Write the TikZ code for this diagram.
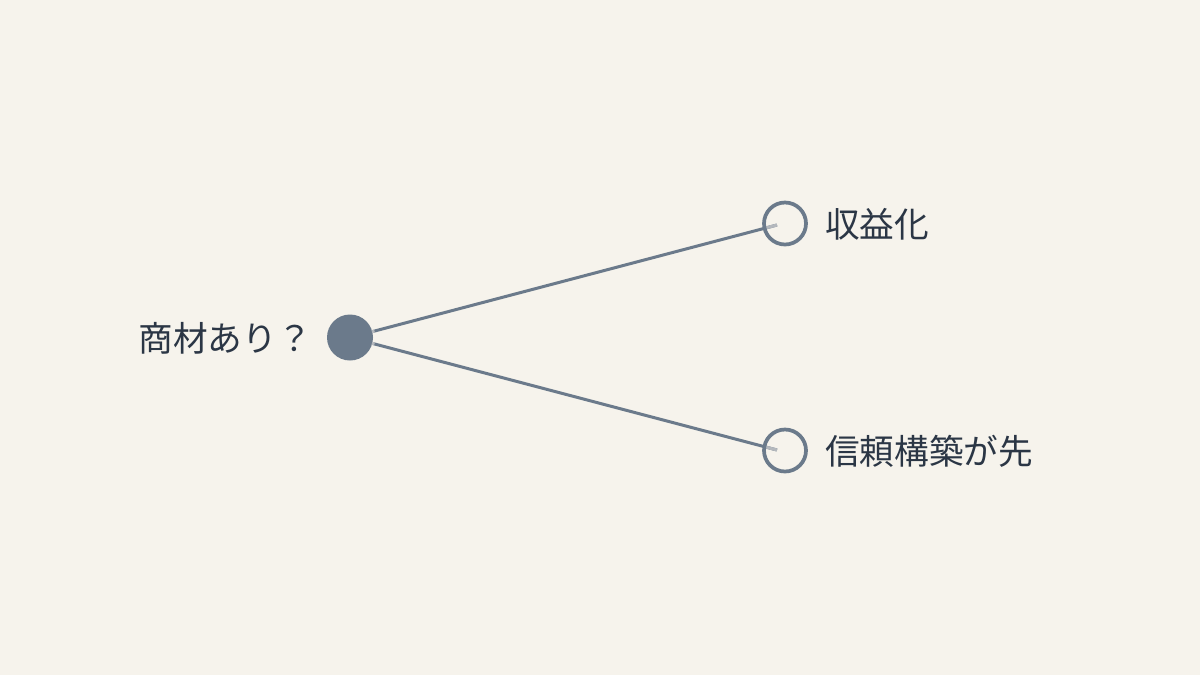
\documentclass[tikz,border=0pt]{standalone}
\usepackage{fontspec}
\usetikzlibrary{calc}
\setmainfont{Noto Sans CJK JP}
\definecolor{bg}{HTML}{F6F3EC}
\definecolor{slate}{HTML}{6B7A8B}
\definecolor{stub}{HTML}{B4B8BD}
\definecolor{ink}{HTML}{2B3645}
\begin{document}
\begin{tikzpicture}[x=0.75pt,y=-0.75pt,
  lbl/.style={text=ink,font=\fontsize{26}{30}\selectfont,inner sep=0pt},
  edge/.style={draw=slate,line width=2.25pt},
  stubline/.style={draw=stub,line width=2.25pt},
  leaf/.style={circle,draw=slate,line width=2.8pt,minimum size=31.5pt,inner sep=0pt}]
\useasboundingbox[fill=bg] (0,0) rectangle (1200,675);
\node[circle,fill=slate,minimum size=34.5pt,inner sep=0pt] (root) at (350,337.5) {};
\node[lbl,anchor=east] (q) at (312,338) {商材あり？};
\coordinate (e1) at (777,225);
\coordinate (e2) at (777,450);
\path[edge] (root) -- (e1);
\path[edge] (root) -- (e2);
\path[stubline] (e1) -- ($(e1)!9pt!(root)$);
\path[stubline] (e2) -- ($(e2)!9pt!(root)$);
\path[stubline] ($(root.center)!17pt!(e1)$) -- ($(root.center)!19pt!(e1)$);
\path[stubline] ($(root.center)!17pt!(e2)$) -- ($(root.center)!19pt!(e2)$);
\node[leaf] (a) at (785,223.5) {};
\node[leaf] (b) at (785,450.5) {};
\node[lbl,anchor=west] (t1) at (825,224) {収益化};
\node[lbl,anchor=west] (t2) at (825,451) {信頼構築が先};
\end{tikzpicture}
\end{document}
